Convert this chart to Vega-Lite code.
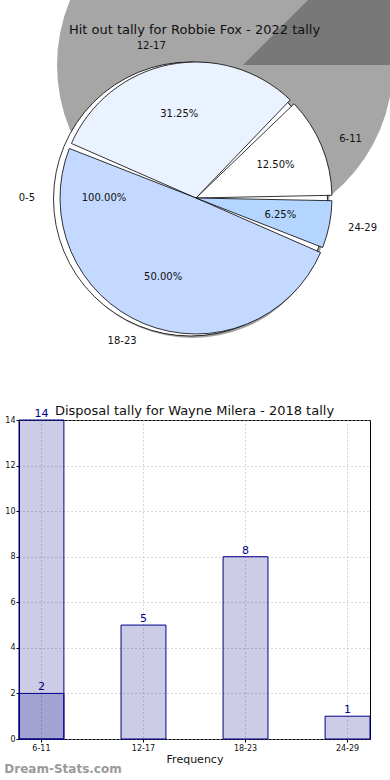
{
  "$schema": "https://vega.github.io/schema/vega-lite/v6.json",
  "padding": {"left": 4, "top": 0, "right": 0, "bottom": 0},
  "spacing": 8,
  "config": {"view": {"stroke": null}, "font": "DejaVu Sans"},
  "title": {"text": "Dream-Stats.com", "orient": "bottom", "anchor": "start", "color": "#9a9a9a", "fontSize": 12, "fontWeight": "bold", "offset": -1},
  "datasets": {
    "pie": [
      {"cat": "6-11", "count": 2, "idx": 1, "pct": "12.50%"},
      {"cat": "12-17", "count": 5, "idx": 2, "pct": "31.25%"},
      {"cat": "18-23", "count": 8, "idx": 3, "pct": "50.00%"},
      {"cat": "24-29", "count": 1, "idx": 4, "pct": "6.25%"}
    ],
    "base": [{"cat": "0-5", "pct": "100.00%"}],
    "bars": [
      {"cat": "6-11", "value": 14, "series": "b"},
      {"cat": "6-11", "value": 2, "series": "a"},
      {"cat": "12-17", "value": 5, "series": "a"},
      {"cat": "18-23", "value": 8, "series": "a"},
      {"cat": "24-29", "value": 1, "series": "a"}
    ]
  },
  "vconcat": [
    {
      "width": 371,
      "height": 396,
      "title": {"text": "Hit out tally for Robbie Fox - 2022 tally", "frame": "group", "offset": -37, "fontSize": 13, "fontWeight": "normal", "anchor": "middle", "dx": -10, "color": "#111111"},
      "layer": [
        {
          "data": {"name": "base"},
          "mark": {"type": "arc", "theta": 0, "theta2": 6.2832, "outerRadius": 168, "fill": "#a6a6a6", "xOffset": 20.5, "yOffset": -133, "clip": true},
          "encoding": {}
        },
        {
          "data": {"name": "base"},
          "mark": {"type": "arc", "theta": 0.7854, "theta2": 1.5708, "outerRadius": 200, "fill": "#787878", "xOffset": 38.5, "yOffset": -133, "clip": true},
          "encoding": {}
        },
        {
          "data": {"name": "base"},
          "mark": {"type": "arc", "theta": 0, "theta2": 6.2832, "outerRadius": 137, "fill": "#7a7a7a", "opacity": 0.7, "xOffset": -12, "yOffset": 3},
          "encoding": {}
        },
        {
          "data": {"name": "base"},
          "mark": {"type": "arc", "theta": 0, "theta2": 6.2832, "outerRadius": 137, "fill": "#ffffff", "stroke": "#000000", "strokeWidth": 0.8, "xOffset": -14, "yOffset": 1},
          "encoding": {}
        },
        {
          "data": {"name": "pie"},
          "mark": {"type": "arc", "outerRadius": 136, "padAngle": 0.04, "stroke": "#000000", "strokeWidth": 0.8, "xOffset": -8.5},
          "encoding": {
            "theta": {"field": "count", "type": "quantitative", "stack": true, "scale": {"range": [1.5708, -4.7124]}},
            "order": {"field": "idx", "type": "quantitative"},
            "color": {"field": "cat", "type": "nominal", "scale": {"domain": ["6-11", "12-17", "18-23", "24-29"], "range": ["#ffffff", "#ebf2ff", "#c4d9ff", "#b3d5ff"]}, "legend": null}
          }
        },
        {
          "data": {"name": "pie"},
          "mark": {"type": "text", "radius": 86, "dx": -8.5, "fontSize": 10, "color": "#111111"},
          "encoding": {
            "theta": {"field": "count", "type": "quantitative", "stack": true},
            "order": {"field": "idx", "type": "quantitative"},
            "text": {"field": "pct"}
          }
        },
        {
          "data": {"name": "pie"},
          "mark": {"type": "text", "radius": 155, "dx": -8.5, "fontSize": 10, "color": "#111111",
            "align": {"expr": "cos(PI * (datum.count_start + datum.count_end) / 16) > 0 ? 'left' : 'right'"}},
          "encoding": {
            "theta": {"field": "count", "type": "quantitative", "stack": true},
            "order": {"field": "idx", "type": "quantitative"},
            "text": {"field": "cat"}
          }
        },
        {
          "data": {"name": "base"},
          "mark": {"type": "text", "theta": 4.7124, "radius": 92, "dx": -8.5, "fontSize": 10, "color": "#111111"},
          "encoding": {"text": {"field": "pct"}}
        },
        {
          "data": {"name": "base"},
          "mark": {"type": "text", "theta": 4.7124, "radius": 161, "dx": -8.5, "fontSize": 10, "color": "#111111", "align": "right"},
          "encoding": {"text": {"field": "cat"}}
        }
      ]
    },
    {
      "width": 351,
      "height": 319,
      "title": {"text": "Disposal tally for Wayne Milera - 2018 tally", "frame": "group", "fontSize": 13, "fontWeight": "normal", "offset": -10, "color": "#111111"},
      "view": {"stroke": "#000000", "strokeWidth": 1},
      "data": {"name": "bars"},
      "encoding": {
        "x": {"field": "cat", "type": "nominal", "sort": ["6-11", "12-17", "18-23", "24-29"],
          "scale": {"paddingInner": 0.56, "paddingOuter": 0},
          "axis": {"labelAngle": 0, "title": "Frequency", "grid": true, "gridDash": [1, 3], "gridColor": "#b0b0b0", "bandPosition": 0.5, "tickSize": 3, "tickColor": "#000000", "labelFontSize": 8, "labelPadding": 2, "titleFontSize": 11, "titleFontWeight": "normal", "titlePadding": 1, "domain": false, "labelColor": "#111111", "titleColor": "#111111"}},
        "y": {"field": "value", "type": "quantitative", "stack": null, "scale": {"domain": [0, 14], "nice": false},
          "axis": {"values": [0, 2, 4, 6, 8, 10, 12, 14], "title": null, "grid": true, "gridDash": [1, 3], "gridColor": "#b0b0b0", "tickSize": 3, "tickColor": "#000000", "labelFontSize": 8, "labelPadding": 1, "domain": false, "labelColor": "#111111"}}
      },
      "layer": [
        {
          "mark": {"type": "bar", "fill": "#000080", "fillOpacity": 0.2, "stroke": "#00008b", "strokeWidth": 1},
          "encoding": {"detail": {"field": "series"}}
        },
        {
          "mark": {"type": "text", "baseline": "bottom", "dy": -1, "fontSize": 11, "color": "#00008b"},
          "encoding": {"text": {"field": "value", "type": "quantitative"}}
        }
      ]
    }
  ]
}
